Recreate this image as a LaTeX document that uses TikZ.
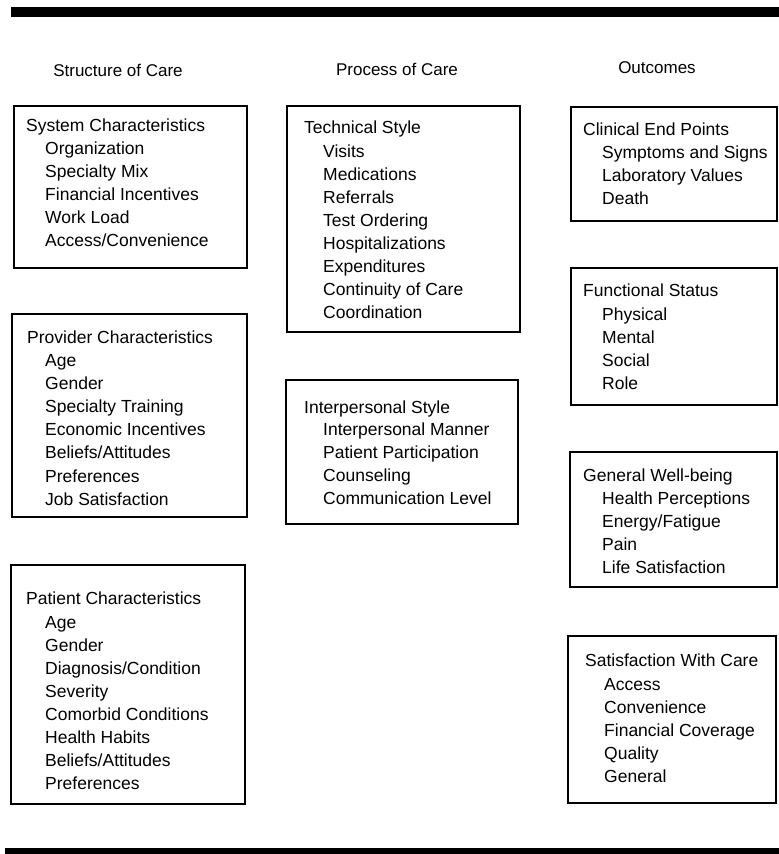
\documentclass[tikz,border=0pt]{standalone}
\usepackage{fontspec}
\setmainfont{Liberation Sans}
\begin{document}
\begin{tikzpicture}[x=1pt,y=-1pt,
  frame/.style={draw=black,line width=2.8pt},
  hdr/.style={anchor=base,inner sep=0pt,font=\fontsize{17}{20}\selectfont},
  ttl/.style={anchor=base west,inner sep=0pt,font=\fontsize{17.5}{20}\selectfont},
  itm/.style={anchor=base west,inner sep=0pt,font=\fontsize{17.5}{20}\selectfont}]
\useasboundingbox (0,0) rectangle (779,854);
% rules
\fill[black] (11,7) rectangle (779,17);
\fill[black] (5,848) rectangle (779,854);
% headers
\node[hdr] (h1) at (118,76) {Structure of Care};
\node[hdr] (h2) at (397,75) {Process of Care};
\node[hdr] (h3) at (657,73) {Outcomes};
% boxes
\draw[frame] (14,106) rectangle (247,268);
\draw[frame] (287,106) rectangle (520,332);
\draw[frame] (571,107) rectangle (777,221);
\draw[frame] (571,268) rectangle (777,405);
\draw[frame] (12,314) rectangle (247,517);
\draw[frame] (286,380) rectangle (518,524);
\draw[frame] (570,452) rectangle (777,587);
\draw[frame] (11,565) rectangle (245,804);
\draw[frame] (568,636) rectangle (776,803);
% System
\node[ttl] (sys) at (26,131) {System Characteristics};
\foreach \t [count=\i] in {Organization,Specialty Mix,Financial Incentives,Work Load,Access/Convenience}
  \node[itm] (sys-\i) at (45,{154+23.2*(\i-1)}) {\t};
% Technical
\node[ttl] (tech) at (304,133) {Technical Style};
\foreach \t [count=\i] in {Visits,Medications,Referrals,Test Ordering,Hospitalizations,Expenditures,Continuity of Care,Coordination}
  \node[itm] (tech-\i) at (323,{157+23*(\i-1)}) {\t};
% Clinical
\node[ttl] (clin) at (583,135) {Clinical End Points};
\foreach \t [count=\i] in {Symptoms and Signs,Laboratory Values,Death}
  \node[itm] (clin-\i) at (602,{158+23*(\i-1)}) {\t};
% Functional
\node[ttl] (func) at (583,296) {Functional Status};
\foreach \t [count=\i] in {Physical,Mental,Social,Role}
  \node[itm] (func-\i) at (602,{320+23*(\i-1)}) {\t};
% Provider
\node[ttl] (prov) at (27,343) {Provider Characteristics};
\foreach \t [count=\i] in {Age,Gender,Specialty Training,Economic Incentives,Beliefs/Attitudes,Preferences,Job Satisfaction}
  \node[itm] (prov-\i) at (45,{366+23.2*(\i-1)}) {\t};
% Interpersonal
\node[ttl] (inter) at (304,413) {Interpersonal Style};
\foreach \t [count=\i] in {Interpersonal Manner,Patient Participation,Counseling,Communication Level}
  \node[itm] (inter-\i) at (323,{435+23*(\i-1)}) {\t};
% General well-being
\node[ttl] (gen) at (583,481) {General Well-being};
\foreach \t [count=\i] in {Health Perceptions,Energy/Fatigue,Pain,Life Satisfaction}
  \node[itm] (gen-\i) at (602,{504+23*(\i-1)}) {\t};
% Patient
\node[ttl] (pat) at (26,604) {Patient Characteristics};
\foreach \t [count=\i] in {Age,Gender,Diagnosis/Condition,Severity,Comorbid Conditions,Health Habits,Beliefs/Attitudes,Preferences}
  \node[itm] (pat-\i) at (45,{628+23*(\i-1)}) {\t};
% Satisfaction
\node[ttl] (sat) at (585,666) {Satisfaction With Care};
\foreach \t [count=\i] in {Access,Convenience,Financial Coverage,Quality,General}
  \node[itm] (sat-\i) at (604,{690+23*(\i-1)}) {\t};
\end{tikzpicture}
\end{document}
